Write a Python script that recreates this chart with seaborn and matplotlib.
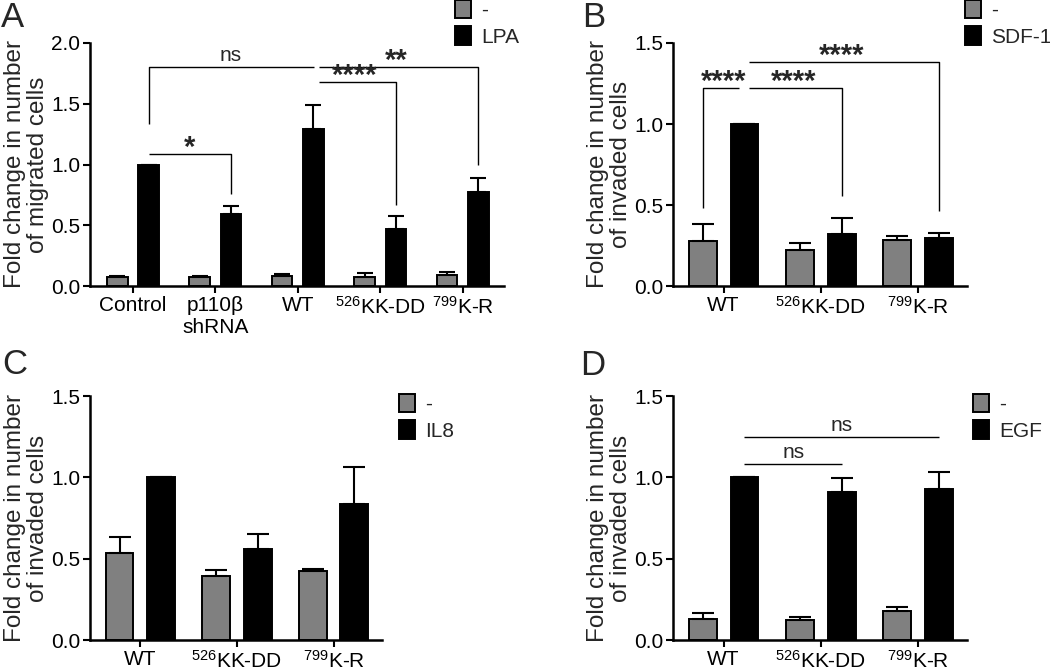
import seaborn as sns
import matplotlib.pyplot as plt
import pandas as pd
from matplotlib.patches import Patch

sns.set_style('ticks')
plt.rcParams['font.family'] = ['Liberation Sans', 'DejaVu Sans']
plt.rcParams['mathtext.fontset'] = 'custom'
plt.rcParams['mathtext.rm'] = 'Liberation Sans'
plt.rcParams['mathtext.it'] = 'Liberation Sans:italic'
plt.rcParams['mathtext.bf'] = 'Liberation Sans:bold'

GREY = '#808080'

## group labels
mut_labels = ['WT', r'${}^{526}$KK-DD', r'${}^{799}$K-R']
a_labels = ['Control', 'p110β\nshRNA'] + mut_labels

## panel A - migration with LPA
a_ctrl = [0.071, 0.071, 0.082, 0.077, 0.088]
a_ctrl_err = [0.012, 0.010, 0.014, 0.033, 0.027]
a_lpa = [1.0, 0.595, 1.29, 0.47, 0.775]
a_lpa_err = [0.0, 0.06, 0.20, 0.105, 0.11]

## panel B - invasion with SDF-1
b_ctrl = [0.28, 0.222, 0.284]
b_ctrl_err = [0.105, 0.042, 0.024]
b_sdf = [1.0, 0.323, 0.298]
b_sdf_err = [0.0, 0.098, 0.027]

## panel C - invasion with IL8
c_ctrl = [0.535, 0.393, 0.424]
c_ctrl_err = [0.10, 0.037, 0.012]
c_il8 = [1.0, 0.557, 0.836]
c_il8_err = [0.0, 0.097, 0.23]

## panel D - invasion with EGF
d_ctrl = [0.127, 0.125, 0.18]
d_ctrl_err = [0.037, 0.018, 0.02]
d_egf = [1.0, 0.91, 0.926]
d_egf_err = [0.0, 0.088, 0.109]

## significance brackets: (bar1, bar2, y, leg1 bottom, leg2 bottom, text, trim1, trim2)
## bar = (group index, hue index)
a_sig = [((0, 1), (2, 1), 1.80, 1.33, None, 'ns', 0, 0.01),
         ((2, 1), (4, 1), 1.80, None, 1.0, '**', 0.07, 0),
         ((2, 1), (3, 1), 1.68, None, 0.665, '****', 0.07, 0),
         ((0, 1), (1, 1), 1.085, None, 0.76, '*', 0, 0)]
b_sig = [((0, 0), (0, 1), 1.225, 0.479, None, '****', 0, -0.06),
         ((0, 1), (1, 1), 1.225, None, 0.555, '****', 0.05, 0),
         ((0, 1), (2, 1), 1.383, None, 0.464, '****', 0.05, 0)]
d_sig = [((0, 1), (1, 1), 1.08, None, None, 'ns', 0, 0),
         ((0, 1), (2, 1), 1.246, None, None, 'ns', 0, 0)]

W, H = 1050, 670


def bar_panel(ax, labels, ctrl, ctrl_err, stim, stim_err, stim_name, ymax, ylabel, width, gap):
    df = pd.DataFrame({'group': labels * 2,
                       'treat': ['-'] * len(labels) + [stim_name] * len(labels),
                       'value': list(ctrl) + list(stim)})
    sns.barplot(data=df, x='group', y='value', hue='treat', palette=[GREY, 'black'],
                edgecolor='black', linewidth=1.4, width=width, gap=gap,
                errorbar=None, legend=False, ax=ax)
    ax.set_ylim(0, ymax)
    xmin, xmax = -0.52, len(labels) - 0.5
    ax.set_xlim(xmin, xmax)
    ax_w = ax.get_position().width * W
    ppu = ax_w / (xmax - xmin)
    centers = []
    for cont, err in zip(ax.containers, [ctrl_err, stim_err]):
        xs = [b.get_x() + b.get_width() / 2 for b in cont]
        ys = [b.get_height() for b in cont]
        cap = 0.4 * cont[0].get_width() * ppu * 72 / 100
        ax.errorbar(xs, ys, yerr=[[0] * len(err), err], fmt='none', ecolor='black',
                    elinewidth=1.5, capthick=1.5, capsize=cap, zorder=3)
        centers.append(xs)
    nt = int(ymax / 0.5) + 1
    ax.set_yticks([v * 0.5 for v in range(nt)])
    ax.set_yticklabels([f'{v * 0.5:.1f}' for v in range(nt)])
    ax.set_xlabel('')
    ax.set_ylabel(ylabel, fontsize=17.5, linespacing=1.05)
    # label sits ~41 px left of the y axis
    ax.yaxis.set_label_coords(-41 / ax_w, 0.5)
    ax.tick_params(axis='both', direction='out', length=5, width=1.5, labelsize=15, pad=2, colors='black')
    sns.despine(ax=ax)
    for s in ['left', 'bottom']:
        ax.spines[s].set_linewidth(1.8)
        ax.spines[s].set_color('black')
    return centers


def add_sig(ax, centers, specs):
    for b1, b2, y, leg1, leg2, txt, t1, t2 in specs:
        x1 = centers[b1[1]][b1[0]]
        x2 = centers[b2[1]][b2[0]]
        xs = [x1 + t1, x2 + t2]
        ys = [y, y]
        if leg1 is not None:
            xs = [x1] + xs
            ys = [leg1] + ys
        if leg2 is not None:
            xs = xs + [x2]
            ys = ys + [leg2]
        ax.plot(xs, ys, color='black', lw=1.0, solid_capstyle='butt')
        xm = (x1 + x2) / 2
        if txt == 'ns':
            ax.annotate(txt, (xm, y), xytext=(0, 2), textcoords='offset points',
                        ha='center', va='bottom', fontsize=15)
        else:
            ax.annotate(txt, (xm, y), xytext=(0, -1.5), textcoords='offset points',
                        ha='center', va='baseline', fontsize=21, fontweight='bold')


def add_legend(fig, ax, stim_name, x, y):
    handles = [Patch(facecolor=GREY, edgecolor='black', linewidth=1.4),
               Patch(facecolor='black', edgecolor='black', linewidth=1.4)]
    ax.legend(handles, ['-', stim_name], loc='upper left', bbox_to_anchor=(x, y),
              bbox_transform=fig.transFigure, frameon=False, fontsize=15,
              handlelength=0.77, handleheight=0.96, handletextpad=0.5,
              labelspacing=0.3, borderpad=0, borderaxespad=0)


fig = plt.figure(figsize=(10.5, 6.7), dpi=100)
axA = fig.add_axes([90 / W, 1 - 286 / H, 414 / W, 243 / H])
axB = fig.add_axes([673 / W, 1 - 286 / H, 294 / W, 243 / H])
axC = fig.add_axes([90 / W, 1 - 640 / H, 292 / W, 244 / H])
axD = fig.add_axes([673 / W, 1 - 640 / H, 294 / W, 244 / H])

cA = bar_panel(axA, a_labels, a_ctrl, a_ctrl_err, a_lpa, a_lpa_err, 'LPA', 2.0,
               'Fold change in number\nof migrated cells', 0.76, 0.34)
cB = bar_panel(axB, mut_labels, b_ctrl, b_ctrl_err, b_sdf, b_sdf_err, 'SDF-1', 1.5,
               'Fold change in number\nof invaded cells', 0.857, 0.33)
cC = bar_panel(axC, mut_labels, c_ctrl, c_ctrl_err, c_il8, c_il8_err, 'IL8', 1.5,
               'Fold change in number\nof invaded cells', 0.857, 0.33)
cD = bar_panel(axD, mut_labels, d_ctrl, d_ctrl_err, d_egf, d_egf_err, 'EGF', 1.5,
               'Fold change in number\nof invaded cells', 0.857, 0.33)

add_sig(axA, cA, a_sig)
add_sig(axB, cB, b_sig)
add_sig(axD, cD, d_sig)

add_legend(fig, axA, 'LPA', 455 / W, 1.0)
add_legend(fig, axB, 'SDF-1', 965 / W, 1.0)
add_legend(fig, axC, 'IL8', 399 / W, 1 - 394 / H)
add_legend(fig, axD, 'EGF', 973 / W, 1 - 394 / H)

for lab, x, y in [('A', 1, 27), ('B', 582, 27), ('C', 2, 374), ('D', 580, 375)]:
    fig.text(x / W, 1 - y / H, lab, fontsize=25, va='baseline', ha='left')

fig.savefig('out.png', dpi=100)
